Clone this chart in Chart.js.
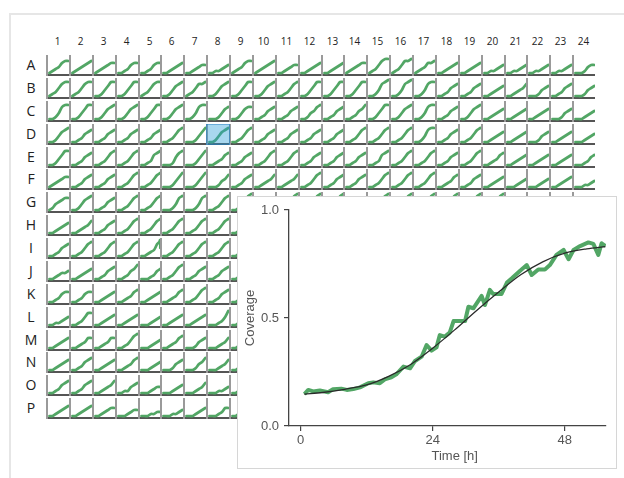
<!DOCTYPE html>
<html>
<head>
<meta charset="utf-8">
<script src="https://cdn.jsdelivr.net/npm/chart.js@4/dist/chart.umd.min.js"></script>
<style>
  html, body { margin: 0; background: #fff; }
  body { width: 624px; height: 478px; position: relative; overflow: hidden; font-family: 'Open Sans', sans-serif; }
  #panel { position: absolute; left: 9px; top: 13px; width: 700px; height: 600px; border: 2px solid #e6e6e6; }
  .col-label { position: absolute; top: 34px; width: 23px; text-align: center; font-size: 10px; line-height: 14px; color: #222; }
  .row-label { position: absolute; left: 20px; width: 22px; text-align: center; font-size: 14px; line-height: 20px; color: #222; }
  .well { position: absolute; }
  .picked { position: absolute; background: rgba(38,155,215,0.4); border: 1px solid rgba(30,120,190,0.45); box-sizing: border-box; }
  #inset { position: absolute; left: 237px; top: 196px; width: 378px; height: 271px; border: 1px solid #d6d6d6; background: #fff; }
</style>
</head>
<body>
<div id="panel"></div>
<div id="plate"></div>
<div id="inset"><canvas id="insetChart" width="378" height="271"></canvas></div>

<script>
const ROWS = ['A', 'B', 'C', 'D', 'E', 'F', 'G', 'H', 'I', 'J', 'K', 'L', 'M', 'N', 'O', 'P'];
const COLS = ['1', '2', '3', '4', '5', '6', '7', '8', '9', '10', '11', '12',
              '13', '14', '15', '16', '17', '18', '19', '20', '21', '22', '23', '24'];

// each well: coverage in tenths, one digit per sample hour
const HOURS       = [1, 10, 19, 28, 37, 46, 55];
const SPIKE_HOURS = [1, 10, 19, 28, 37, 46, 52, 54.5, 55];

const WELLS_A = ['1234677', '1234567', '1234566', '1123566', '1123566', '1123456', '1123455', '1122345',
                 '1234677', '1234567', '1123455', '1123456', '1123456', '1234566', '1235788', '1235778',
                 '1234667', '1123456', '1123456', '1122345', '1122345', '1122345', '1122345', '1112455'];
const WELLS_B = ['1235788', '1235788', '1124688', '1124688', '1235788', '1124678', '1235778', '1124678',
                 '1124688', '1124678', '1123578', '1124688', '1124688', '1124688', '1124789', '1124789',
                 '1124788', '1123567', '1123567', '1123456', '1123457', '1112456', '1123567', '1112456'];
const WELLS_C = ['1124788', '1124688', '1124678', '1124678', '1124688', '1124678', '1124788', '1112467',
                 '1124677', '1123567', '1123567', '1124578', '1123567', '1123568', '1124688', '1124678',
                 '1124788', '1123567', '1124678', '1123456', '1123456', '1123456', '1112456', '1112345'];
const WELLS_D = ['1124678', '1123567', '1123567', '1123567', '1123567', '1123578', '1112468', '1124678',
                 '1123578', '1123567', '1123567', '1123567', '1123567', '1123578', '1123578', '1123578',
                 '1124788', '1123567', '1123578', '1123456', '1123456', '1112456', '1123456', '1112345'];
const WELLS_E = ['1124688', '1123567', '1123578', '1123578', '1123678', '1112578', '1112468', '1123467',
                 '1123567', '1123578', '1123578', '1123567', '1123567', '1123567', '1123678', '1123578',
                 '1123578', '1123567', '1123578', '1123467', '1123456', '1123456', '1123456', '1112356'];
const WELLS_F = ['1234566', '1123567', '1123567', '1123578', '1123578', '1112468', '1112468', '1112457',
                 '1123567', '1123457', '1123457', '1123578', '1123567', '1123567', '1123578', '1123578',
                 '1123578', '1123467', '1123567', '1123456', '1112345', '1112345', '1123456', '1112234'];
const WELLS_G = ['1245677', '1124678', '1123567', '1123578', '1123578', '1112478', '1112478', '1123578',
                 '1123589', '1123567', '1123589', '1123589', '1123589', '1123567', '1124689', '1123589',
                 '1123589', '1123589', '1123589', '1123589', '1123567', '1123456', '1123456', '1123456'];
// rows H-P: columns 10-24 sit under the inset
const WELLS_H = ['1123456', '1123457', '1123567', '1123578', '1123578', '1123578', '1123578', '1123578', '1123578'];
const WELLS_I = ['1123567', '1123578', '1123578', '1123578', '112347895', '1123578', '1123578', '1123578', '1123578'];
const WELLS_J = ['1123445', '1123456', '1123567', '1123568', '1112356', '1123578', '1123567', '1123567', '1123567'];
const WELLS_K = ['1123566', '1123566', '1123456', '1123467', '1123456', '1123467', '1123578', '1123567', '1123567'];
const WELLS_L = ['1122345', '1123577', '1123456', '1123456', '1112345', '1123456', '1123456', '1112358', '1123567'];
const WELLS_M = ['1123456', '1123466', '1123466', '1123578', '1112345', '1123467', '1112456', '1112346', '1123567'];
const WELLS_N = ['1123456', '1123567', '1123456', '1123467', '1112345', '1112456', '1112457', '1112346', '1123567'];
const WELLS_O = ['1123567', '1123567', '1123457', '1122456', '1112344', '1112345', '1112346', '1112234', '1123456'];
const WELLS_P = ['1123456', '1123456', '1123455', '1112344', '1112233', '1112234', '1112345', '1112355', '1123456'];

const PICKED_ROW = 'D';
const PICKED_COL = '8';

// inset: the picked well, measured and fitted
const CURVE_HOURS = [0.7, 1.4, 2.3, 3.5, 5.0, 5.9, 7.4, 8.4, 9.6, 10.8, 12.3, 13.2, 14.4, 15.3, 16.5, 17.4,
                     18.7, 19.9, 20.8, 22.0, 22.9, 23.8, 24.7, 25.3, 26.2, 27.1, 27.8, 29.9, 30.5, 31.4,
                     32.9, 33.5, 34.4, 35.0, 36.5, 37.5, 38.4, 39.9, 41.1, 42.0, 43.2, 44.4, 45.3, 46.5,
                     47.8, 48.7, 49.6, 50.8, 52.3, 53.2, 54.1, 54.7, 55.4];
const CURVE_COVERAGE = [0.148, 0.167, 0.160, 0.164, 0.156, 0.170, 0.173, 0.167, 0.171, 0.179, 0.198, 0.202,
                        0.198, 0.216, 0.225, 0.239, 0.275, 0.267, 0.301, 0.321, 0.375, 0.349, 0.364, 0.421,
                        0.414, 0.432, 0.486, 0.486, 0.552, 0.545, 0.602, 0.560, 0.630, 0.611, 0.611, 0.664,
                        0.684, 0.719, 0.745, 0.699, 0.725, 0.725, 0.745, 0.792, 0.815, 0.772, 0.815, 0.833,
                        0.850, 0.843, 0.792, 0.846, 0.833];
const FIT_HOURS    = [0.7, 4, 8, 12, 16, 20, 24, 28, 32, 36, 40, 44, 48, 52, 55.4];
const FIT_COVERAGE = [0.147, 0.155, 0.17, 0.19, 0.23, 0.285, 0.36, 0.445, 0.535, 0.62, 0.70, 0.76, 0.80, 0.82, 0.83];

const TIME_TICKS     = [0, 24, 48];
const COVERAGE_TICKS = [0, 0.5, 1];

const GREEN = '#52a665';
const GRID_LEFT = 46, GRID_TOP = 55, PITCH = 22.875;

const WELLS = [WELLS_A, WELLS_B, WELLS_C, WELLS_D, WELLS_E, WELLS_F, WELLS_G, WELLS_H,
               WELLS_I, WELLS_J, WELLS_K, WELLS_L, WELLS_M, WELLS_N, WELLS_O, WELLS_P];

const plate = document.getElementById('plate');

COLS.forEach((c, i) => {
  const el = document.createElement('div');
  el.className = 'col-label';
  el.style.left = Math.round(GRID_LEFT + i * PITCH) + 'px';
  el.textContent = c;
  plate.appendChild(el);
});

ROWS.forEach((r, j) => {
  const el = document.createElement('div');
  el.className = 'row-label';
  el.style.top = Math.round(GRID_TOP + j * PITCH) + 'px';
  el.textContent = r;
  plate.appendChild(el);
});

function wellChart(canvas, code) {
  const hours = code.length === HOURS.length ? HOURS : SPIKE_HOURS;
  new Chart(canvas, {
    type: 'line',
    data: {
      datasets: [{
        data:        hours.map((h, i) => ({ x: h, y: +code[i] / 10 })),
        borderColor: GREEN,
        borderWidth: 2.7,
        borderCapStyle: 'round',
        pointRadius: 0,
        tension:     0.3,
      }],
    },
    options: {
      responsive: false, animation: false, devicePixelRatio: 1, events: [],
      layout: { padding: { left: 1, right: 0, top: 0, bottom: 1 } },
      plugins: { legend: { display: false }, tooltip: { enabled: false } },
      scales: {
        x: { type: 'linear', min: -6, max: 57,
             grid: { display: false, drawTicks: false, tickLength: 0 }, ticks: { display: false },
             border: { color: '#555', width: 2 } },
        y: { min: 0, max: 1,
             grid: { display: false, drawTicks: false, tickLength: 0 }, ticks: { display: false },
             border: { color: '#9a9a9a', width: 2 } },
      },
    },
  });
}

WELLS.forEach((row, j) => {
  row.forEach((code, i) => {
    const cv = document.createElement('canvas');
    cv.className = 'well';
    cv.width = 23; cv.height = 21;
    cv.style.left = Math.round(GRID_LEFT + i * PITCH) + 'px';
    cv.style.top  = Math.round(GRID_TOP + j * PITCH) + 'px';
    plate.appendChild(cv);
    wellChart(cv, code);
  });
});

// highlight of the well shown in the inset
const pick = document.createElement('div');
pick.className = 'picked';
pick.style.left   = Math.round(GRID_LEFT + COLS.indexOf(PICKED_COL) * PITCH) + 'px';
pick.style.top    = Math.round(GRID_TOP + ROWS.indexOf(PICKED_ROW) * PITCH) + 'px';
pick.style.width  = '24px';
pick.style.height = '21px';
plate.appendChild(pick);

const axisFont = { family: "'Liberation Sans', Arial, sans-serif", size: 13 };

new Chart(document.getElementById('insetChart'), {
  type: 'line',
  data: {
    datasets: [
      {
        data:        FIT_HOURS.map((h, i) => ({ x: h, y: FIT_COVERAGE[i] })),
        borderColor: '#2a2a2a',
        borderWidth: 1.3,
        pointRadius: 0,
        cubicInterpolationMode: 'monotone',
      },
      {
        data:        CURVE_HOURS.map((h, i) => ({ x: h, y: CURVE_COVERAGE[i] })),
        borderColor: GREEN,
        borderWidth: 4,
        borderJoinStyle: 'round',
        pointRadius: 0,
        tension:     0,
      },
    ],
  },
  options: {
    responsive: false, animation: false, devicePixelRatio: 1, events: [],
    layout: { padding: { left: 5, top: 13, right: 10, bottom: 4 } },
    plugins: { legend: { display: false }, tooltip: { enabled: false } },
    scales: {
      x: {
        type: 'linear', min: -2.1, max: 55.5,
        afterBuildTicks: s => { s.ticks = TIME_TICKS.map(v => ({ value: v })); },
        afterFit: s => { s.height = 38; },
        grid:   { drawOnChartArea: false, color: '#444', tickLength: 5, lineWidth: 1.2 },
        border: { color: '#444', width: 1.3 },
        ticks:  { color: '#555', font: axisFont, padding: 2, maxRotation: 0 },
        title:  { display: true, text: '    Time [h]', color: '#555', font: axisFont, padding: 0 },
      },
      y: {
        min: 0, max: 1,
        afterBuildTicks: s => { s.ticks = COVERAGE_TICKS.map(v => ({ value: v })); },
        afterFit: s => { s.width = 46; },
        grid:   { drawOnChartArea: false, color: '#444', tickLength: 5, lineWidth: 1.2 },
        border: { color: '#444', width: 1.3 },
        ticks:  { color: '#555', font: axisFont, padding: 5, callback: v => v.toFixed(1) },
        title:  { display: true, text: 'Coverage', color: '#555', font: axisFont, padding: 0 },
      },
    },
  },
});
</script>
</body>
</html>
